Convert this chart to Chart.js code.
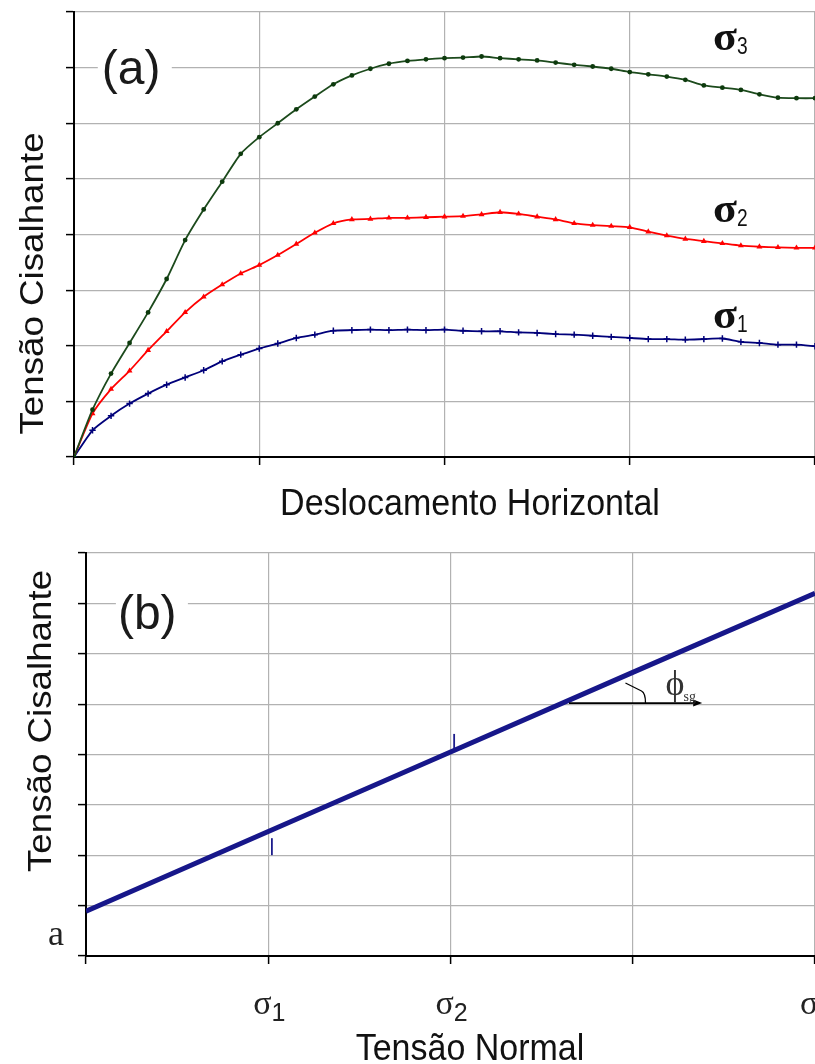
<!DOCTYPE html>
<html><head><meta charset="utf-8">
<script src="https://cdn.jsdelivr.net/npm/chart.js@4/dist/chart.umd.min.js"></script>
<style>
html,body{margin:0;padding:0;background:#fff;overflow:hidden;width:815px;height:1064px;}
#wrap{position:relative;width:815px;height:1064px;overflow:hidden;background:#fff;}
canvas{position:absolute;left:0;}
#ca{top:0;}
#cb{top:530px;}
</style></head><body>
<div id="wrap"><canvas id="ca" width="840" height="530"></canvas><canvas id="cb" width="840" height="534"></canvas></div>
<script>
// ---- Chart (a): shear stress vs horizontal displacement ----
const displacement = [0,0.1,0.2,0.3,0.4,0.5,0.6,0.7,0.8,0.9,1.0,1.1,1.2,1.3,1.4,1.5,1.6,1.7,1.8,1.9,2.0,2.1,2.2,2.3,2.4,2.5,2.6,2.7,2.8,2.9,3.0,3.1,3.2,3.3,3.4,3.5,3.6,3.7,3.8,3.9,4.0];
const shearSigma3 = [0,0.85,1.5,2.05,2.6,3.2,3.9,4.45,4.95,5.45,5.75,6.0,6.25,6.48,6.7,6.86,6.98,7.07,7.12,7.15,7.17,7.18,7.2,7.17,7.15,7.13,7.09,7.05,7.02,6.98,6.92,6.88,6.84,6.78,6.68,6.64,6.6,6.52,6.46,6.45,6.45];
const shearSigma2 = [0,0.78,1.22,1.55,1.92,2.26,2.6,2.88,3.1,3.3,3.45,3.63,3.83,4.03,4.2,4.27,4.28,4.3,4.3,4.31,4.32,4.33,4.36,4.4,4.37,4.32,4.27,4.2,4.17,4.15,4.13,4.05,3.98,3.92,3.88,3.84,3.8,3.78,3.77,3.76,3.76];
const shearSigma1 = [0,0.48,0.74,0.96,1.14,1.3,1.43,1.56,1.72,1.84,1.95,2.04,2.14,2.2,2.27,2.28,2.29,2.28,2.29,2.28,2.29,2.27,2.26,2.26,2.24,2.23,2.21,2.2,2.18,2.16,2.14,2.12,2.12,2.11,2.12,2.13,2.07,2.05,2.02,2.02,1.99];
const seriesLabels = ['σ3','σ2','σ1'];
const seriesIndex = ['3','2','1'];
// label anchor (data units): x, baseline y
const seriesLabelX = [3.45,3.45,3.45];
const seriesLabelY = [7.32,4.22,2.32];

// ---- Chart (b): failure envelope ----
const normalStress = [0,1,2,3,4];
const shearStrength = [0.89,2.47,4.05,5.63,7.2];
const normalTickIndex = ['', '1', '2', '', '3'];
const markX = [1.02, 2.02];
const markY = [2.17, 4.24];

const GRID = '#b2b2b2';
const SANS = '"Liberation Sans", Arial, sans-serif';
const SERIF = '"Liberation Serif", "Times New Roman", serif';

function txt(ctx, s, x, y, font, o) {
  o = o || {};
  ctx.save();
  ctx.translate(x, y);
  if (o.rot) ctx.rotate(o.rot);
  ctx.scale(o.sx || 1, o.sy || 1);
  ctx.font = font;
  ctx.fillStyle = o.color || '#111';
  ctx.textAlign = o.align || 'left';
  ctx.textBaseline = 'alphabetic';
  ctx.fillText(s, 0, 0);
  const w = ctx.measureText(s).width * (o.sx || 1);
  ctx.restore();
  return w;
}

function axisCommon(min, max, fixedSize, horizontal) {
  return {
    type: 'linear', min: min, max: max,
    ticks: { stepSize: 1, display: false },
    grid: { color: GRID, lineWidth: 1.2, tickColor: '#000', tickLength: 8, tickWidth: 1.5, drawTicks: true },
    border: { color: '#000', width: 2 },
    afterFit: function (s) { if (horizontal) s.height = fixedSize; else s.width = fixedSize; }
  };
}

Chart.defaults.font.family = SANS;

// ---------- Chart A ----------
const textA = {
  id: 'textA',
  afterDraw(chart) {
    const ctx = chart.ctx, xs = chart.scales.x, ys = chart.scales.y;
    const ax = xs.getPixelForValue(0.15), ay = ys.getPixelForValue(6.7);
    ctx.fillStyle = '#fff';
    ctx.fillRect(ax - 4, ay - 42, 74, 58);
    txt(ctx, '(a)', ax, ay, '48px ' + SANS, { color: '#1a1a1a' });
    for (let i = 0; i < seriesLabels.length; i++) {
      const px = xs.getPixelForValue(seriesLabelX[i]);
      const py = ys.getPixelForValue(seriesLabelY[i]);
      const w = txt(ctx, 'σ', px, py, 'bold 40px ' + SERIF, { color: '#111', sx: 1.1 });
      txt(ctx, seriesIndex[i], px + w, py + 4, '24px ' + SANS, { color: '#111', sx: 0.8 });
    }
    txt(ctx, 'Deslocamento Horizontal', 470, 515, '34px ' + SANS, { align: 'center', sy: 1.08, color: '#111' });
    txt(ctx, 'Tensão Cisalhante', 43, 283.5, '34px ' + SANS, { align: 'center', rot: -Math.PI / 2, sx: 1.08, color: '#111' });
  }
};

new Chart(document.getElementById('ca'), {
  type: 'scatter',
  data: {
    datasets: [
      { label: seriesLabels[0], data: displacement.map((x, i) => ({ x: x, y: shearSigma3[i] })), showLine: true,
        borderColor: '#1c4a1c', backgroundColor: '#0d3a0d', borderWidth: 1.8, pointStyle: 'circle', pointRadius: 2.4, pointBorderWidth: 0 },
      { label: seriesLabels[1], data: displacement.map((x, i) => ({ x: x, y: shearSigma2[i] })), showLine: true,
        borderColor: '#ff0000', backgroundColor: '#ff0000', borderWidth: 1.8, pointStyle: 'triangle', pointRadius: 3.4, pointBorderWidth: 0 },
      { label: seriesLabels[2], data: displacement.map((x, i) => ({ x: x, y: shearSigma1[i] })), showLine: true,
        borderColor: '#00007a', backgroundColor: '#00007a', borderWidth: 1.8, pointStyle: 'cross', pointRadius: 3.2, pointBorderWidth: 1.5 }
    ]
  },
  options: {
    responsive: false, animation: false, devicePixelRatio: 1,
    layout: { padding: { left: 0, top: 12, right: 25, bottom: 0 } },
    plugins: { legend: { display: false }, tooltip: { enabled: false } },
    elements: { line: { tension: 0.2 } },
    scales: {
      x: axisCommon(0, 4, 73, true),
      y: axisCommon(0, 8, 74, false)
    }
  },
  plugins: [textA]
});

// ---------- Chart B ----------
const textB = {
  id: 'textB',
  afterDraw(chart) {
    const ctx = chart.ctx, xs = chart.scales.x, ys = chart.scales.y;
    const bx = xs.getPixelForValue(0.175), by = ys.getPixelForValue(6.5);
    ctx.fillStyle = '#fff';
    ctx.fillRect(bx - 2, by - 42, 72, 58);
    txt(ctx, '(b)', bx, by, '48px ' + SANS, { color: '#1a1a1a' });
    const baseY = chart.chartArea.bottom + 58;
    for (let i = 0; i < normalStress.length; i++) {
      if (!normalTickIndex[i]) continue;
      const px = xs.getPixelForValue(normalStress[i]) - 15;
      const w = txt(ctx, 'σ', px, baseY, '34px ' + SERIF, { color: '#222' });
      txt(ctx, normalTickIndex[i], px + w, baseY + 7, '25px ' + SANS, { color: '#222' });
    }
    txt(ctx, 'a', chart.chartArea.left - 38, ys.getPixelForValue(0.22), '36px ' + SERIF, { color: '#222' });
    const x0 = xs.getPixelForValue(2.65), x1 = xs.getPixelForValue(3.37), yh = ys.getPixelForValue(5.02);
    ctx.save();
    ctx.strokeStyle = '#000'; ctx.lineWidth = 1.6;
    ctx.beginPath(); ctx.moveTo(x0, yh); ctx.lineTo(x1 - 4, yh); ctx.stroke();
    ctx.fillStyle = '#000';
    ctx.beginPath(); ctx.moveTo(x1 + 2, yh); ctx.lineTo(x1 - 7, yh - 3.5); ctx.lineTo(x1 - 7, yh + 3.5); ctx.closePath(); ctx.fill();
    const a0x = xs.getPixelForValue(2.96), a0y = ys.getPixelForValue(5.42);
    const a1x = xs.getPixelForValue(3.07);
    ctx.lineWidth = 1.3;
    ctx.beginPath(); ctx.moveTo(a0x, a0y); ctx.lineTo(a1x - 4, a0y + 8); ctx.quadraticCurveTo(a1x, a0y + 10, a1x, yh); ctx.stroke();
    ctx.restore();
    const fx = xs.getPixelForValue(3.18);
    const fw = txt(ctx, 'ϕ', fx, yh - 8, '36px ' + SERIF, { color: '#333' });
    txt(ctx, 'sg', fx + fw - 1, yh - 2, '14px ' + SERIF, { color: '#333' });
    txt(ctx, 'Tensão Normal', 470, 530, '34px ' + SANS, { align: 'center', sy: 1.08, color: '#111' });
    txt(ctx, 'Tensão Cisalhante', 51, 191, '34px ' + SANS, { align: 'center', rot: -Math.PI / 2, sx: 1.08, color: '#111' });
  }
};

new Chart(document.getElementById('cb'), {
  type: 'scatter',
  data: {
    datasets: [
      { label: 'Envoltória', data: normalStress.map((x, i) => ({ x: x, y: shearStrength[i] })), showLine: true,
        borderColor: '#17178a', borderWidth: 5, pointRadius: 0 },
      { label: 'marcas', data: markX.map((x, i) => ({ x: x, y: markY[i] })), showLine: false,
        pointStyle: 'line', rotation: 90, pointRadius: 8.5, borderColor: '#1c1c8c', pointBorderWidth: 1.8 }
    ]
  },
  options: {
    responsive: false, animation: false, devicePixelRatio: 1,
    layout: { padding: { left: 0, top: 23, right: 25, bottom: 0 } },
    plugins: { legend: { display: false }, tooltip: { enabled: false } },
    scales: {
      x: axisCommon(0, 4, 108, true),
      y: axisCommon(0, 8, 86, false)
    }
  },
  plugins: [textB]
});
</script>
</body></html>
